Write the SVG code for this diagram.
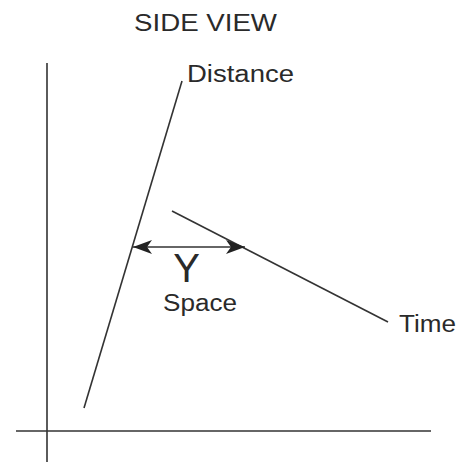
<svg xmlns="http://www.w3.org/2000/svg" width="460" height="462" viewBox="0 0 460 462">
<style>
.ln{stroke:#333;stroke-width:1.6;fill:none}
.t{font-family:"Liberation Sans",Arial,sans-serif;fill:#2a2a2a}
</style>
<defs>
<marker id="ah" viewBox="0 0 19 14" refX="19" refY="7" markerWidth="19" markerHeight="14" markerUnits="userSpaceOnUse" orient="auto-start-reverse">
<path d="M0,0 L19,7 L0,14 L5,7 Z" fill="#222"/>
</marker>
</defs>
<rect width="460" height="462" fill="#fff"/>
<g id="axes">
<line class="ln" x1="47" y1="63" x2="47" y2="462"/>
<line class="ln" x1="16" y1="431" x2="431" y2="431"/>
</g>
<g id="distance">
<line class="ln" x1="84" y1="408" x2="182" y2="81"/>
<text class="t" x="187" y="82" font-size="23" textLength="107" lengthAdjust="spacingAndGlyphs">Distance</text>
</g>
<g id="time">
<line class="ln" x1="172" y1="211" x2="388" y2="322"/>
<text class="t" x="399" y="332" font-size="23" textLength="57" lengthAdjust="spacingAndGlyphs">Time</text>
</g>
<g id="title">
<text class="t" x="134" y="31" font-size="23" textLength="143" lengthAdjust="spacingAndGlyphs">SIDE VIEW</text>
</g>
<g id="connectors">
<line class="ln" x1="133" y1="247" x2="245" y2="247" marker-start="url(#ah)" marker-end="url(#ah)"/>
</g>
<g id="space">
<text class="t" x="186.5" y="282" font-size="40" text-anchor="middle">Y</text>
<text class="t" x="163" y="311" font-size="23" textLength="74" lengthAdjust="spacingAndGlyphs">Space</text>
</g>
</svg>
